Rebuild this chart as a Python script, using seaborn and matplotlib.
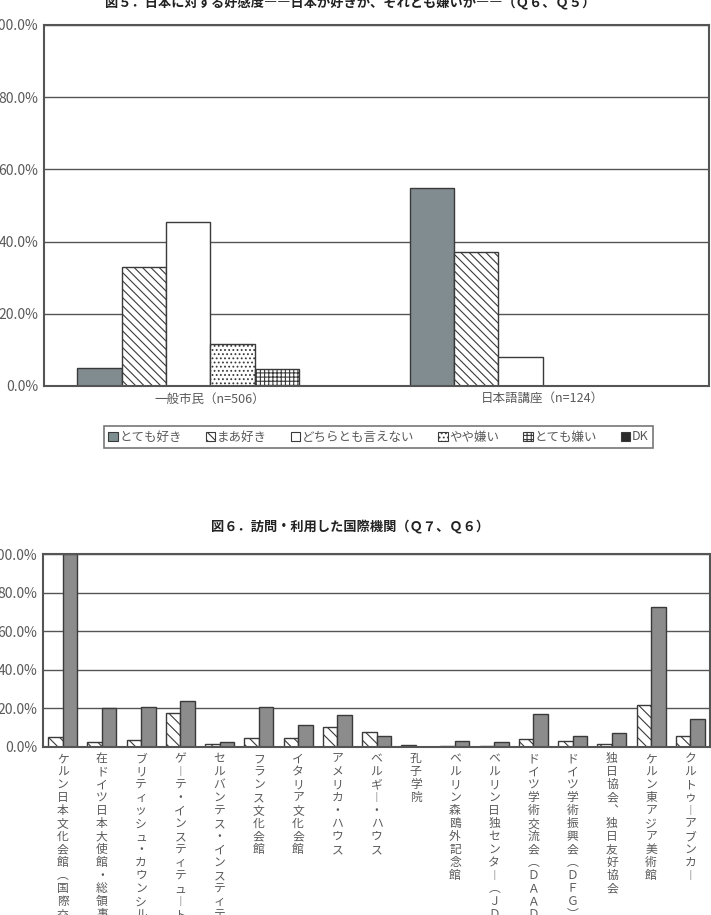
import numpy as np
import pandas as pd
import matplotlib
matplotlib.use("Agg")
import matplotlib.pyplot as plt
import seaborn as sns
from matplotlib.patches import Patch
from matplotlib.ticker import FuncFormatter

# --- 図5 data (percent) ---
groups5 = ["一般市民（n=506）", "日本語講座（n=124）"]
answers5 = ["とても好き", "まあ好き", "どちらとも言えない", "やや嫌い", "とても嫌い", "DK"]
ippan5 = [4.9, 33.0, 45.5, 11.7, 4.7, 0.0]
nihongo5 = [54.8, 37.2, 8.0, 0.0, 0.0, 0.0]

# --- 図6 data (percent) ---
kikan6 = ["ケルン日本文化会館（国際交流基金）", "在ドイツ日本大使館・総領事館",
          "ブリティッシュ・カウンシル", "ゲーテ・インスティテュート",
          "セルバンテス・インスティテュート", "フランス文化会館", "イタリア文化会館",
          "アメリカ・ハウス", "ベルギー・ハウス", "孔子学院", "ベルリン森鴎外記念館",
          "ベルリン日独センター（ＪＤＺＢ）", "ドイツ学術交流会（ＤＡＡＤ）",
          "ドイツ学術振興会（ＤＦＧ）", "独日協会、独日友好協会",
          "ケルン東アジア美術館", "クルトゥーアブンカー"]
ippan6 = [5.2, 2.4, 3.3, 17.5, 1.4, 4.3, 4.3, 10.4, 7.5, 0.8, 0.2, 0.4,
          3.8, 3.0, 1.4, 21.6, 5.4]
nihongo6 = [100.0, 19.9, 20.7, 23.8, 2.3, 20.7, 11.1, 16.6, 5.4, 0.0, 3.1, 2.4,
            17.0, 5.5, 7.1, 72.5, 14.4]
series6 = ["一般市民", "日本語講座"]

# styles
face5 = {"とても好き": "#7d8e91", "まあ好き": "white", "どちらとも言えない": "white",
         "やや嫌い": "white", "とても嫌い": "white", "DK": "#2b2b2b"}
hatch5 = {"とても好き": "", "まあ好き": "\\\\\\\\", "どちらとも言えない": "",
          "やや嫌い": "....", "とても嫌い": "++++", "DK": ""}
face6 = {"一般市民": "white", "日本語講座": "#8c8c8c"}
hatch6 = {"一般市民": "\\\\\\", "日本語講座": ""}

sns.set_style("white")
plt.rcParams["font.family"] = ["Noto Sans CJK JP", "DejaVu Sans"]
plt.rcParams["hatch.linewidth"] = 0.8
plt.rcParams["hatch.color"] = "#333333"

GRID = "#555555"
TXT = "#5a5a5a"
pct = FuncFormatter(lambda v, _: f"{v:.1f}%")

df5 = pd.DataFrame({
    "group": np.repeat(groups5, len(answers5)),
    "answer": answers5 * 2,
    "value": ippan5 + nihongo5,
})
df6 = pd.DataFrame({
    "kikan": kikan6 * 2,
    "series": np.repeat(series6, len(kikan6)),
    "value": ippan6 + nihongo6,
})

fig = plt.figure(figsize=(7.11, 9.15), dpi=100)
ax1 = fig.add_axes([44 / 711, 1 - 386 / 915, 665 / 711, 361 / 915])
ax2 = fig.add_axes([43 / 711, 1 - 746.7 / 915, 667 / 711, 192.7 / 915])


def style_axes(ax):
    ax.set_ylim(0, 100)
    ax.set_yticks([0, 20, 40, 60, 80, 100])
    ax.yaxis.set_major_formatter(pct)
    ax.yaxis.grid(True, color=GRID, lw=1.0)
    ax.set_axisbelow(True)
    for s in ax.spines.values():
        s.set_visible(True)
        s.set_color(GRID)
        s.set_linewidth(1.5)
    ax.set_xlabel("")
    ax.set_ylabel("")
    ax.tick_params(axis="y", length=0, pad=4, labelsize=10, labelcolor=TXT)


# 図5
sns.barplot(data=df5, x="group", y="value", hue="answer", hue_order=answers5,
            palette=face5, width=0.8, errorbar=None, legend=False, ax=ax1)
for cont, name in zip(ax1.containers, answers5):
    for bar in cont:
        bar.set_edgecolor("#3a3a3a")
        bar.set_linewidth(1.0)
        bar.set_hatch(hatch5[name])
style_axes(ax1)
ax1.set_xlim(-0.5, 1.5)
ax1.tick_params(axis="x", which="major", length=0, pad=5, labelsize=9, labelcolor=TXT)
ax1.set_xticks([0.5], minor=True)
ax1.tick_params(axis="x", which="minor", direction="in", length=4, color=GRID, width=1)

fig.text(0.492, 1 - 3 / 915, "図５．日本に対する好感度――日本が好きか、それとも嫌いか――（Ｑ６、Ｑ５）",
         ha="center", va="center", fontsize=9.5, fontweight="bold", color="#222222")

handles = [Patch(facecolor=face5[a], edgecolor="#3a3a3a", hatch=hatch5[a], lw=0.8)
           for a in answers5]
leg = fig.legend(handles, answers5, loc="center",
                 bbox_to_anchor=(378.5 / 711, 1 - 437 / 915), ncol=6,
                 fontsize=9, handlelength=0.75, handleheight=0.75,
                 handletextpad=0.15, columnspacing=1.9, borderpad=0.35,
                 fancybox=False, frameon=True)
leg.get_frame().set_edgecolor(GRID)
leg.get_frame().set_linewidth(1.2)
for t in leg.get_texts():
    t.set_color(TXT)

# 図6
sns.barplot(data=df6, x="kikan", y="value", hue="series", hue_order=series6,
            palette=face6, width=0.74, errorbar=None, legend=False, ax=ax2)
for cont, name in zip(ax2.containers, series6):
    for bar in cont:
        bar.set_edgecolor("#3a3a3a")
        bar.set_linewidth(1.0)
        bar.set_hatch(hatch6[name])
style_axes(ax2)
ax2.set_xlim(-0.5, len(kikan6) - 0.5)

vert = str.maketrans({"ー": "︱", "（": "︵", "）": "︶", "、": "︑"})
ax2.set_xticks(range(len(kikan6)))
ax2.set_xticklabels(["\n".join(k.translate(vert)) for k in kikan6],
                    rotation=0, va="top", ha="center", linespacing=1.0)
ax2.tick_params(axis="x", which="major", length=0, pad=4, labelsize=8.5, labelcolor=TXT)
ax2.set_xticks(np.arange(-0.5, len(kikan6)), minor=True)
ax2.tick_params(axis="x", which="minor", direction="in", length=3, color=GRID, width=1)

fig.text(0.492, 1 - 527 / 915, "図６．訪問・利用した国際機関（Ｑ７、Ｑ６）",
         ha="center", va="center", fontsize=9.5, fontweight="bold", color="#222222")

fig.savefig("out.png", dpi=100)
